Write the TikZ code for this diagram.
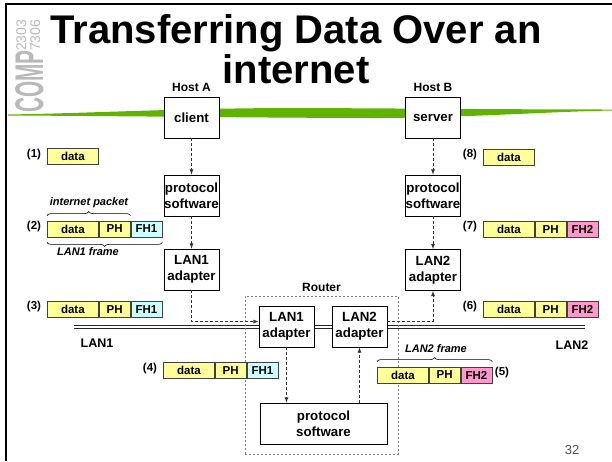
\documentclass[tikz,border=0pt]{standalone}
\usepackage{fontspec}
\setmainfont{Liberation Sans}
\usepackage{graphicx}
\usetikzlibrary{decorations.pathreplacing}

\definecolor{pktyellow}{RGB}{255,255,153}
\definecolor{fhone}{RGB}{204,255,255}
\definecolor{fhtwo}{RGB}{255,153,204}
\definecolor{slidegreen}{RGB}{96,180,0}
\definecolor{stamp}{RGB}{185,185,185}

\begin{document}
\begin{tikzpicture}[x=1pt,y=-1pt,
    box/.style={draw,line width=0.8pt,fill=white,minimum width=55,minimum height=41,inner sep=0,align=center,font=\bfseries\fontsize{13.3}{16}\selectfont},
    fld/.style={draw=black!75,line width=0.8pt,minimum height=16,inner sep=0,anchor=west,font=\bfseries\fontsize{11.5}{12}\selectfont},
    num/.style={font=\bfseries\fontsize{11.5}{12}\selectfont},
    lbl/.style={font=\bfseries\fontsize{12}{14}\selectfont},
    ital/.style={font=\bfseries\itshape\fontsize{11}{12}\selectfont},
    flow/.style={draw=black!80,line width=0.8pt,dash pattern=on 3pt off 2pt,-latex},
    brc/.style={decorate,decoration={brace,amplitude=4pt},line width=0.6pt}]

    \useasboundingbox (0,0) rectangle (612,461);

    \fill[slidegreen] (8,114.5) .. controls (100,113) and (180,108) .. (300,108)
        .. controls (420,108.5) and (520,109.5) .. (612,109.5) -- (612,110.5)
        .. controls (540,112) and (470,117.5) .. (380,118)
        .. controls (280,118) and (120,116) .. (8,115.5) -- cycle;
    \draw[line width=2pt] (6,461) -- (6,4) -- (612,4);

    \node[rotate=90,anchor=base west,inner sep=0,text=stamp,font=\bfseries\fontsize{40}{40}\selectfont] (comp) at (43,113) {\scalebox{0.52}[1]{COMP}};
    \node[rotate=90,anchor=base west,inner sep=0,text=stamp,font=\fontsize{14}{14}\selectfont] (code1) at (26,51) {2303};
    \node[rotate=90,anchor=base west,inner sep=0,text=stamp,font=\fontsize{14}{14}\selectfont] (code2) at (40,51) {7306};

    \node[anchor=base,inner sep=0,align=center,font=\bfseries\fontsize{40}{40}\selectfont] (title) at (296,83) {Transferring Data Over an\\internet};

    \draw[line width=1pt,black!85] (74,325.5) -- (585,325.5);
    \draw[line width=1.8pt,black!85] (74,328.5) -- (585,328.5);
    \node[lbl,font=\bfseries\fontsize{12.5}{14}\selectfont] (lanone) at (97,343) {LAN1};
    \node[lbl,font=\bfseries\fontsize{12.5}{14}\selectfont] (lantwo) at (572,345) {LAN2};

    \node[lbl] (hosta) at (191.5,87) {Host A};
    \node[lbl] (hostb) at (433,87) {Host B};
    \node[box] (client) at (191.5,117.5) {client};
    \node[box] (psa) at (191.5,195.5) {protocol\\software};
    \node[box] (lana) at (191.5,269.5) {LAN1\\adapter};
    \node[box] (server) at (433,117.5) {server};
    \node[box] (psb) at (433,195.5) {protocol\\software};
    \node[box] (lanb) at (433,270) {LAN2\\adapter};

    \node[draw=black!50,dash pattern=on 2pt off 2pt,line width=0.8pt,minimum width=153,minimum height=158] (router) at (321.5,375) {};
    \node[lbl] (routerlbl) at (321.5,287) {Router};
    \node[box] (ra) at (286.5,326.5) {LAN1\\adapter};
    \node[box] (rb) at (359.5,326.5) {LAN2\\adapter};
    \node[box,minimum width=127] (rp) at (323.5,423.5) {protocol\\software};

    \draw[flow] (client) -- (psa);
    \draw[flow] (psa) -- (lana);
    \draw[flow] (lana) |- (ra.170);
    \draw[flow] (ra) -- (ra |- rp.north);
    \draw[flow] (rb |- rp.north) -- (rb);
    \draw[flow] (rb.10) -| (lanb);
    \draw[flow] (server) -- (psb);
    \draw[flow] (psb) -- (lanb);

    \node[fld,fill=pktyellow,minimum width=51] (d1) at (47,156) {data};
    \node[fld,fill=pktyellow,minimum width=51] (d8) at (483,157) {data};
    \foreach \n/\x/\y/\fh/\fc in {2/47/229/FH1/fhone,3/47/309.5/FH1/fhone,4/163/370.5/FH1/fhone,
        5/377/375/FH2/fhtwo,6/483/309.5/FH2/fhtwo,7/483/229.5/FH2/fhtwo}{
        \node[fld,fill=pktyellow,minimum width=51] (d\n) at (\x,\y) {data};
        \node[fld,fill=pktyellow,minimum width=31] (p\n) at (d\n.east) {PH};
        \node[fld,fill=\fc,minimum width=31] (f\n) at (p\n.east) {\fh};
    }
    \foreach \n/\x/\y in {1/34/155,2/34/227,3/34/307,4/150/369,5/502/373,6/470/307,7/470/227,8/470/155}
        \node[num] (n\n) at (\x,\y) {(\n)};

    \draw[brc] ([yshift=5pt]d2.north west) -- ([yshift=5pt]p2.north east);
    \node[ital] (ipacket) at (89,203) {internet packet};
    \draw[brc] ([yshift=-5pt]f2.south east) -- ([yshift=-5pt]d2.south west);
    \node[ital] (lfone) at (88,252) {LAN1 frame};
    \draw[brc] ([yshift=5pt]d5.north west) -- ([yshift=5pt]f5.north east);
    \node[ital] (lftwo) at (436,349) {LAN2 frame};

    \node[text=black!70,font=\fontsize{13}{13}\selectfont] (pageno) at (572,450) {32};
\end{tikzpicture}
\end{document}
